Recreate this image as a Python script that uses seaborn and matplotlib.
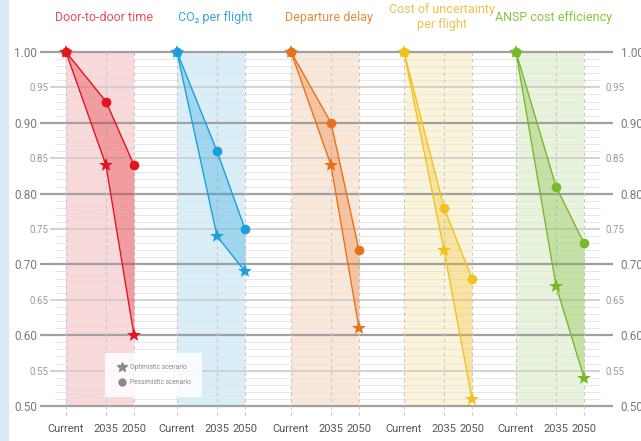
import matplotlib.pyplot as plt
import matplotlib.patches as mpatches
from matplotlib.lines import Line2D
import numpy as np
import pandas as pd
import seaborn as sns

metrics = ["Door-to-door time", "CO\u2082 per flight", "Departure delay",
           "Cost of uncertainty\nper flight", "ANSP cost efficiency"]
periods = ["Current", "2035", "2050"]
optimistic = [[1.00, 0.84, 0.60],
              [1.00, 0.74, 0.69],
              [1.00, 0.84, 0.61],
              [1.00, 0.72, 0.51],
              [1.00, 0.67, 0.54]]
pessimistic = [[1.00, 0.93, 0.84],
               [1.00, 0.86, 0.75],
               [1.00, 0.90, 0.72],
               [1.00, 0.78, 0.68],
               [1.00, 0.81, 0.73]]

colors = ["#e3141f", "#1c9fdd", "#e8721c", "#f1c21f", "#79b82a"]
title_colors = ["#e6505b", "#3aa6dc", "#ea8a3c", "#e8c44c", "#8cc43c"]

# layout in pixel-like x units
group_start = [66, 177, 291, 404, 516]
offsets = [0, 40, 68]

rows = []
for i, m in enumerate(metrics):
    for j, p in enumerate(periods):
        rows.append({"metric": m, "period": p, "x": group_start[i] + offsets[j],
                     "Optimistic": optimistic[i][j], "Pessimistic": pessimistic[i][j]})
df = pd.DataFrame(rows)

sns.set_style("white")
plt.rcParams['font.family'] = ['Roboto', 'DejaVu Sans']

fig = plt.figure(figsize=(6.41, 4.41), dpi=100)
fig.patches.append(mpatches.Rectangle((0, 0), 8 / 641, 1, transform=fig.transFigure,
                                      color="#dde8f8", zorder=0))
ax = fig.add_axes([40 / 641, 35 / 441, 568 / 641, 354 / 441])
ax.set_xlim(40, 608)
ax.set_ylim(0.5, 1.0)
for s in ax.spines.values():
    s.set_visible(False)

# fine horizontal lines
for v in np.arange(0.51, 1.0, 0.01):
    if round(v * 100) % 5:
        ax.hlines(v, 55, 600, color="#e6e6e6", lw=0.7, zorder=1)
for v in [0.55, 0.65, 0.75, 0.85, 0.95]:
    ax.hlines(v, 50, 600, color="#cfcfcf", lw=1.3, zorder=1)
for v in [0.5, 0.6, 0.7, 0.8, 0.9, 1.0]:
    ax.hlines(v, 40, 613, color="#a0a0a0", lw=1.6, zorder=1, clip_on=False)

for i, m in enumerate(metrics):
    sub = df[df["metric"] == m]
    xs = sub["x"].values
    c = colors[i]
    # background band
    ax.axvspan(xs[0], xs[-1], ymin=0, ymax=1, color=c, alpha=0.17, lw=0, zorder=0.5)
    for x in xs:
        ax.plot([x, x], [1.0, 0.483], ls=(0, (3, 3)), color="#c8c8c8", lw=0.8,
                zorder=1.2, clip_on=False)
    ax.fill_between(xs, sub["Pessimistic"], sub["Optimistic"], color=c, alpha=0.3,
                    lw=0, zorder=2)
    sns.lineplot(data=sub, x="x", y="Pessimistic", color=c, lw=1.0, marker="o",
                 markersize=7, markeredgewidth=0, ax=ax, zorder=3, clip_on=False)
    sns.lineplot(data=sub, x="x", y="Optimistic", color=c, lw=1.0, marker="*",
                 markersize=10, markeredgewidth=0, ax=ax, zorder=4, clip_on=False)
    ax.text((xs[0] + xs[-1]) / 2 + 4, 1.0494, m, ha="center", va="center", fontsize=9,
            color=title_colors[i], linespacing=1.15)

ax.set_xlabel("")
ax.set_ylabel("")
xt = df["x"].values
ax.set_xticks(xt)
ax.set_xticklabels(list(df["period"]), fontsize=8, color="#555555")
ax.tick_params(axis="x", length=0, pad=13)

major = [0.5, 0.6, 0.7, 0.8, 0.9, 1.0]
minor = [0.55, 0.65, 0.75, 0.85, 0.95]
ax.set_yticks(major)
ax.set_yticklabels(["%.2f" % v for v in major], fontsize=8.5, color="#7a7a7a")
ax.set_yticks(minor, minor=True)
ax.set_yticklabels(["%.2f" % v for v in minor], minor=True, fontsize=7, color="#9a9a9a")
ax.tick_params(axis="y", which="major", length=0, pad=2)
ax.tick_params(axis="y", which="minor", length=0, pad=-6)

# right-hand labels
ax2 = ax.twinx()
ax2.set_ylim(0.5, 1.0)
for s in ax2.spines.values():
    s.set_visible(False)
ax2.set_yticks(major)
ax2.set_yticklabels(["%.2f" % v for v in major], fontsize=8.5, color="#7a7a7a")
ax2.set_yticks(minor, minor=True)
ax2.set_yticklabels(["%.2f" % v for v in minor], minor=True, fontsize=7, color="#9a9a9a")
ax2.tick_params(axis="y", which="major", length=0, pad=9)
ax2.tick_params(axis="y", which="minor", length=0, pad=-1.5)

handles = [Line2D([], [], ls="", marker="*", color="#8a8a8a", markersize=7.5),
           Line2D([], [], ls="", marker="o", color="#8a8a8a", markersize=5)]
leg = ax.legend(handles, ["Optimistic scenario", "Pessimistic scenario"],
                loc="center", bbox_to_anchor=(0.2, 0.088), fontsize=4.8,
                frameon=True, fancybox=False, borderpad=1.7, labelspacing=1.2,
                handletextpad=0.4, handlelength=1.6, labelcolor="#888888")
leg.get_frame().set_facecolor("white")
leg.get_frame().set_alpha(0.85)
leg.get_frame().set_edgecolor("none")
leg.set_zorder(6)

fig.savefig("out.png", dpi=100)
